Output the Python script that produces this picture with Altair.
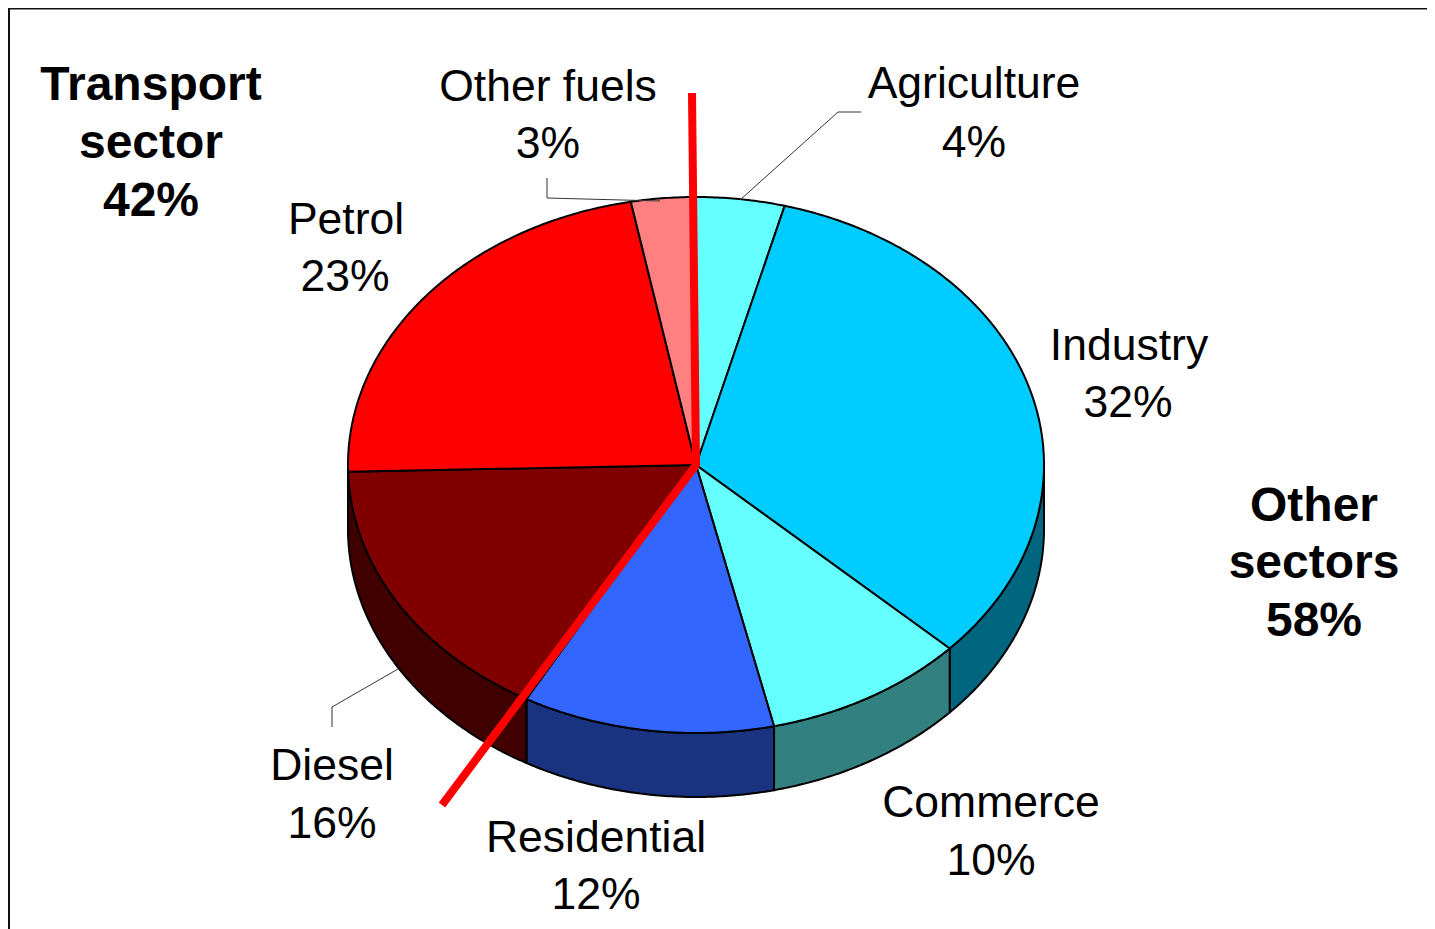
import math
import altair as alt
import pandas as pd

# Slice shares as drawn, clockwise from twelve o'clock
names = ["Agriculture", "Industry", "Commerce", "Residential", "Diesel", "Petrol", "Other fuels"]
shares = [4.1, 32.9, 9.4, 11.7, 16.5, 22.4, 3.0]
top_colors = ["#66FFFF", "#00CCFF", "#66FFFF", "#3366FF", "#800000", "#FF0000", "#FF8080"]
wall_colors = ["#338080", "#006680", "#338080", "#1A3380", "#400000", "#800000", "#804040"]

# Text
label_rows = ["Other fuels", "3%", "Agriculture", "4%", "Petrol", "23%", "Industry", "32%",
              "Commerce", "10%", "Residential", "12%", "Diesel", "16%"]
label_x = [548, 548, 974, 974, 346, 345, 1129, 1128, 991, 991, 596, 596, 332, 332]
label_y = [101, 158, 98, 157, 234, 291, 360, 417, 817, 875, 852, 909, 780, 838]
bold_rows = ["Transport", "sector", "42%", "Other", "sectors", "58%"]
bold_x = [151, 151, 151, 1314, 1314, 1314]
bold_y = [100, 158, 216, 521, 578, 636]

# Geometry of the tilted disc, in the pixel-based units of the scales
CX, CY, RX, RY, DEPTH = 696, 465, 348, 268, 64
W, H = 1419, 921
x_scale = alt.Scale(domain=[8, 8 + W], range=[0, W], nice=False, zero=False)
y_scale = alt.Scale(domain=[8, 8 + H], range=[0, H], nice=False, zero=False)


def rim(t, drop=0):
    a = math.radians(t)
    return CX + RX * math.sin(a), CY - RY * math.cos(a) + drop


def poly(points, color, stroke="black", width=2.0, closed=True):
    df = pd.DataFrame({"x": [p[0] for p in points], "y": [p[1] for p in points],
                       "i": range(len(points))})
    kw = dict(interpolate="linear-closed", fill=color) if closed else dict(interpolate="linear")
    return alt.Chart(df).mark_line(stroke=stroke, strokeWidth=width, clip=False,
                                   strokeJoin="round", **kw).encode(
        x=alt.X("x:Q", scale=x_scale, axis=None),
        y=alt.Y("y:Q", scale=y_scale, axis=None),
        order="i:Q",
    )


layers = []
# Frame
layers.append(poly([(9, 929), (9, 8.5), (1427, 8.5)], "none", "#111111", 2, closed=False))

# Side wall, then the top of each slice
cum = 0
spans = []
for s in shares:
    spans.append((cum * 3.6, (cum + s) * 3.6))
    cum += s
for (a, b), c in zip(spans, wall_colors):
    lo, hi = max(a, 90), min(b, 270)
    if hi <= lo:
        continue
    n = max(2, int((hi - lo) * 2))
    arc = [lo + (hi - lo) * k / n for k in range(n + 1)]
    pts = [rim(t) for t in arc] + [rim(t, DEPTH) for t in reversed(arc)]
    layers.append(poly(pts, c))
for (a, b), c in zip(spans, top_colors):
    n = max(2, int((b - a) * 2))
    pts = [(CX, CY)] + [rim(a + (b - a) * k / n) for k in range(n + 1)]
    layers.append(poly(pts, c))

# Leader lines
layers.append(poly([(740, 200), (838, 112), (861, 112)], "none", "#333333", 1, closed=False))
layers.append(poly([(547, 178), (547, 198), (660, 201)], "none", "#333333", 1, closed=False))
layers.append(poly([(332, 727), (332, 707), (398, 669)], "none", "#333333", 1, closed=False))

# Sector divider
layers.append(poly([(692, 93), (696, 465), (442, 805)], "none", "#FF0000", 8, closed=False))

# Labels
def text_layer(rows, xs, ys, size, weight):
    df = pd.DataFrame({"t": rows, "x": xs, "y": ys})
    return alt.Chart(df).mark_text(font="Liberation Sans", fontSize=size, fontWeight=weight,
                                   color="black", align="center", baseline="alphabetic").encode(
        x=alt.X("x:Q", scale=x_scale, axis=None),
        y=alt.Y("y:Q", scale=y_scale, axis=None),
        text="t:N",
    )


layers.append(text_layer(label_rows, label_x, label_y, 44.5, "normal"))
layers.append(text_layer(bold_rows, bold_x, bold_y, 48, "bold"))

chart = alt.layer(*layers).properties(
    width=W, height=H, padding=0, autosize=alt.AutoSizeParams(type="none"), background="white"
).configure_view(stroke=None)

chart.save("out.html", embed_options={"renderer": "svg", "actions": False})
